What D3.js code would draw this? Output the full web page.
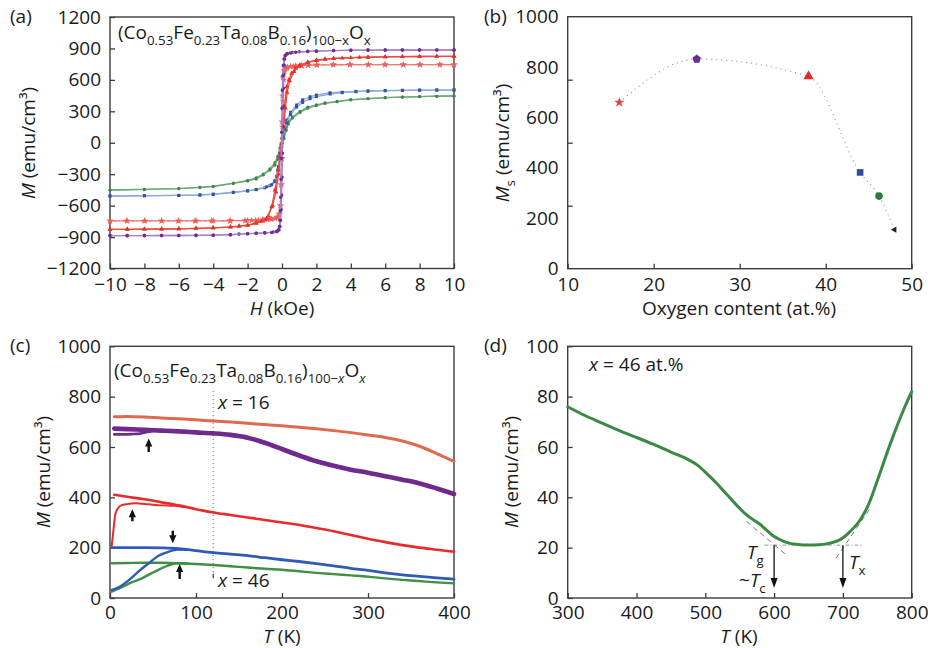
<!DOCTYPE html>
<html>
<head>
<meta charset="utf-8">
<script src="https://cdn.jsdelivr.net/npm/d3@7"></script>
<style>
  body { margin: 0; background: #fff; }
  svg { font-family: "Open Sans", sans-serif; }
</style>
</head>
<body>
<svg id="fig" width="928" height="648"></svg>
<script>
// ---------- data ----------

// (a) M-H loops, points are [H (kOe), M (emu/cm3)]; "down" = sweep +10 -> -10, "up" = -10 -> +10
const purpleDown = [[10,885],[9,885],[8,885],[7,885],[6,884],[5,884],[4,882],[3,880],[2,876],[1.5,872],[1,868],[0.6,862],[0.3,852],[0.2,835],[0.15,800],[0.12,740],[0.1,650],[0.08,520],[0.06,350],[0.04,150],[0.02,-100],[0,-330],[-0.02,-500],[-0.05,-640],[-0.08,-740],[-0.12,-800],[-0.18,-830],[-0.3,-845],[-0.5,-852],[-1,-860],[-1.5,-864],[-2,-868],[-2.5,-872],[-3,-877],[-4,-882],[-5,-884],[-6,-885],[-7,-885],[-8,-886],[-9,-886],[-10,-886]];
const purpleUp = [[-10,-886],[-9,-886],[-8,-886],[-7,-885],[-6,-885],[-5,-884],[-4,-882],[-3,-878],[-2,-868],[-1.5,-864],[-1,-860],[-0.6,-856],[-0.3,-850],[-0.2,-833],[-0.15,-800],[-0.12,-740],[-0.1,-650],[-0.08,-520],[-0.06,-350],[-0.04,-150],[-0.02,100],[0,330],[0.02,500],[0.05,640],[0.08,740],[0.12,800],[0.18,830],[0.3,848],[0.5,856],[0.8,864],[1.5,870],[2,874],[3,880],[4,883],[5,884],[6,885],[7,885],[8,885],[9,885],[10,885]];

const redDown = [[10,825],[9,824],[8,823],[7,821],[6,819],[5,816],[4,812],[3,805],[2.5,798],[2,788],[1.5,770],[1.05,741],[0.8,712],[0.56,662],[0.4,600],[0.27,534],[0.15,340],[0.05,150],[0,50],[-0.1,-120],[-0.2,-300],[-0.35,-470],[-0.55,-600],[-0.8,-700],[-1,-735],[-1.5,-765],[-2,-785],[-2.5,-795],[-3,-803],[-4,-812],[-5,-817],[-6,-821],[-7,-823],[-8,-825],[-9,-826],[-10,-827]];
const redUp = [[-10,-827],[-9,-826],[-8,-825],[-7,-824],[-6,-822],[-5,-818],[-4,-812],[-3,-805],[-2.5,-798],[-2,-788],[-1.5,-770],[-1.2,-750],[-0.89,-722],[-0.6,-611],[-0.41,-451],[-0.21,-260],[-0.12,-134],[0,0],[0.1,150],[0.2,330],[0.3,480],[0.45,590],[0.7,680],[1,730],[1.5,765],[2,785],[2.5,795],[3,802],[3.5,807],[4.5,814],[5,816],[6,819],[7,821],[8,823],[9,824],[10,825]];

const starDown = [[10,745],[9.18,745],[8.02,745],[7.05,745],[5.99,745],[5.02,745],[3.95,745],[2.98,744],[2.02,743],[1.53,741],[1.14,739],[0.8,735],[0.5,728],[0.3,720],[0.2,710],[0.12,690],[0.06,620],[0.02,450],[0,200],[-0.03,-150],[-0.06,-400],[-0.1,-600],[-0.15,-680],[-0.3,-715],[-0.66,-728],[-1.14,-736],[-1.53,-740],[-2.02,-742],[-3,-744],[-4,-745],[-5,-745],[-6,-745],[-7,-745],[-8,-745],[-9,-745],[-10,-745]];
const starUp = [[-10,-745],[-9.03,-745],[-7.97,-745],[-7,-745],[-6.03,-745],[-5.06,-745],[-4.09,-745],[-3.02,-744],[-2.15,-743],[-1.76,-741],[-1.38,-739],[-1.09,-736],[-0.85,-732],[-0.6,-728],[-0.4,-722],[-0.25,-710],[-0.15,-680],[-0.08,-600],[-0.03,-400],[0,-150],[0.03,150],[0.06,400],[0.1,600],[0.15,680],[0.3,715],[0.66,728],[1.14,736],[1.53,740],[2.02,742],[2.98,744],[3.95,745],[5.02,745],[5.99,745],[7.05,745],[8.02,745],[9.18,745],[10,745]];

const blueDown = [[10,503],[9,503],[8,502],[7,500],[6,498],[5,494],[4.3,490],[3.5,482],[2.79,477],[2,455],[1.63,439],[1.2,410],[0.85,360],[0.5,290],[0.27,217],[0.15,150],[0.05,60],[-0.05,-30],[-0.15,-150],[-0.25,-260],[-0.41,-360],[-0.7,-410],[-1,-430],[-1.5,-448],[-2,-460],[-2.83,-472],[-4,-490],[-4.77,-498],[-6,-503],[-8,-506],[-10,-508]];
const blueUp = [[-10,-508],[-8,-505],[-6,-502],[-4.77,-499],[-4,-493],[-2.83,-475],[-2,-458],[-1.5,-445],[-0.89,-420],[-0.6,-400],[-0.41,-372],[-0.3,-320],[-0.21,-229],[-0.12,-100],[-0.05,-10],[0.05,60],[0.15,130],[0.27,190],[0.5,270],[0.85,340],[1.2,385],[1.63,420],[2,440],[2.8,465],[3.5,478],[4.3,487],[5,492],[6,497],[7,500],[8,502],[9,503],[10,503]];

const greenDown = [[10,446],[9,444],[8,441],[7,436],[6,431],[5,422],[4,412],[3.2,395],[2.5,380],[2,362],[1.5,340],[1.05,300],[0.6,245],[0.37,200],[0.25,150],[0.12,90],[0,30],[-0.12,-50],[-0.25,-130],[-0.41,-190],[-0.7,-250],[-1.09,-300],[-1.5,-335],[-2,-360],[-2.83,-385],[-4,-415],[-4.77,-425],[-6,-437],[-8,-445],[-10,-451]];
const greenUp = [[-10,-451],[-8,-445],[-6,-437],[-4.77,-426],[-4,-418],[-2.83,-388],[-2,-365],[-1.5,-345],[-1.09,-308],[-0.7,-260],[-0.41,-213],[-0.25,-160],[-0.12,-101],[0,-40],[0.12,40],[0.25,120],[0.37,180],[0.6,235],[1.05,290],[1.5,330],[2,355],[2.5,375],[3.2,391],[4,410],[5,420],[6,430],[7,436],[8,441],[9,444],[10,446]];

// (b) saturation magnetisation vs oxygen content
const oxygenContent = [16, 25, 38, 44, 46.2, 48];
const msValues = [660, 832, 763, 382, 288, 155];

// (c) M-T curves, [T (K), M (emu/cm3)]; FC and ZFC branches
const salmonFC = [[5,720],[20,721],[40,719],[60,715],[80,712],[100,708],[120,703],[140,699],[160,694],[180,689],[200,684],[220,678],[240,672],[260,665],[280,657],[300,648],[320,638],[340,624],[360,603],[380,574],[400,543]];
const purpleFC = [[5,673],[20,671],[40,668],[60,665],[80,662],[100,658],[120,654],[140,648],[160,637],[180,617],[200,592],[220,566],[240,543],[260,525],[280,510],[300,498],[320,484],[340,470],[360,455],[380,435],[400,413]];
const purpleZFC = [[5,650],[15,650],[25,651],[35,653],[42,659],[50,664]];
const redFC = [[5,410],[20,402],[40,392],[60,380],[80,368],[100,353],[120,340],[140,330],[160,320],[180,310],[200,300],[220,290],[240,278],[260,265],[280,250],[300,235],[320,222],[340,210],[360,200],[380,192],[400,184]];
const redZFC = [[2,205],[4,270],[6,330],[9,355],[13,368],[20,373],[30,376],[45,372],[60,368],[75,366],[85,362]];
const blueFC = [[2,200],[20,200],[40,200],[60,199],[80,196],[100,188],[120,180],[140,174],[160,168],[180,160],[200,152],[220,145],[240,137],[260,128],[280,118],[300,110],[320,100],[340,92],[360,86],[380,80],[400,75]];
const blueZFC = [[2,32],[10,42],[17,58],[25,80],[33,105],[45,138],[56,167],[65,180],[72,188],[80,192],[90,191]];
const greenFC = [[2,138],[20,139],[40,140],[60,140],[80,138],[100,135],[120,131],[140,126],[160,121],[180,116],[200,112],[220,106],[240,100],[260,95],[280,90],[300,85],[320,78],[340,72],[360,67],[380,62],[400,58]];
const greenZFC = [[2,25],[12,40],[25,62],[35,75],[48,98],[58,115],[68,130],[78,138],[90,137]];
// arrows in (c): [T, M tail, M tip]
const arrowsC = [[45,580,634],[26,305,353],[73,267,218],[81,75,135]];

// (d) M-T for x = 46, heating
const heatT = [300,325,350,375,400,425,450,475,490,500,515,530,545,560,580,599,615,623,635,650,665,676,688,696,710,725,737,750,762,774,787,800];
const heatM = [76,72.5,69.5,66.5,63.8,61,58,55,52.5,50,46,41.5,37,33,29.2,24.6,22.4,21.7,21.3,21.1,21.2,21.5,22.3,23.2,26.3,31,37,46.6,56,65,74,82];
// Tg and Tx markers [T, M]
const transitions = [[600, 21], [700, 21]];

// tick labels
const hTicks = [-10,-8,-6,-4,-2,0,2,4,6,8,10];
const mTicksA = [-1200,-900,-600,-300,0,300,600,900,1200];
const oxTicks = [10,20,30,40,50];
const msLabels = [0,200,400,600,800,1000];
const msMarks = [250,500,750];
const tTicksC = [0,100,200,300,400];
const mTicksC = [0,200,400,600,800,1000];
const tTicksD = [300,400,500,600,700,800];
const mTicksD = [0,20,40,60,80,100];

// ---------- drawing ----------
const svg = d3.select('#fig');
const FS = 19;
const INK = '#1a1a1a';
const FRAME = '#3c3c3c';

function makeBox(x0, x1, y0, y1, xDom, yDom) {
    return {
        x0, x1, y0, y1,
        x: d3.scaleLinear().domain(xDom).range([x0, x1]),
        y: d3.scaleLinear().domain(yDom).range([y1, y0])
    };
}

function styleAxis(g) {
    g.select('.domain').remove();
    g.selectAll('line').attr('stroke', FRAME).attr('stroke-width', 1.3);
    g.selectAll('text').attr('font-size', FS).attr('fill', INK)
        .attr('font-family', '"Open Sans", sans-serif');
}

function drawAxes(b, xt, yt, yMarks, xPad) {
    const gx = svg.append('g').attr('transform', `translate(0,${b.y1})`)
        .call(d3.axisBottom(b.x).tickValues(xt).tickSize(-5).tickPadding(xPad || 9).tickFormat(d3.format('d')));
    styleAxis(gx);
    const gy = svg.append('g').attr('transform', `translate(${b.x0},0)`)
        .call(d3.axisLeft(b.y).tickValues(yt).tickSize(yMarks ? 0 : -5).tickPadding(9).tickFormat(d3.format('d')));
    styleAxis(gy);
    if (yMarks) {
        const gm = svg.append('g').attr('transform', `translate(${b.x0},0)`)
            .call(d3.axisLeft(b.y).tickValues(yMarks).tickSize(-5).tickFormat(''));
        styleAxis(gm);
    }
    svg.append('rect')
        .attr('x', b.x0).attr('y', b.y0)
        .attr('width', b.x1 - b.x0).attr('height', b.y1 - b.y0)
        .attr('fill', 'none').attr('stroke', FRAME).attr('stroke-width', 1.4);
}

// text with italic / subscript pieces
function rich(x, y, parts, size, anchor) {
    const t = svg.append('text').attr('x', x).attr('y', y)
        .attr('font-size', size).attr('fill', INK)
        .attr('text-anchor', anchor || 'start');
    let shift = 0;
    parts.forEach(p => {
        const s = p[0], kind = p[1] || '';
        const target = kind.includes('s') ? size * 0.3 : 0;
        const ts = t.append('tspan').text(s).attr('dy', target - shift);
        if (kind.includes('s')) ts.attr('font-size', size * 0.7);
        if (kind.includes('i')) ts.attr('font-style', 'italic');
        shift = target;
    });
    return t;
}

function yTitle(cx, cy, parts) {
    rich(0, 0, parts, FS, 'middle').attr('transform', `translate(${cx + 7},${cy}) rotate(-90)`);
}

function curve(b, pts, color, width, dash, smooth) {
    const line = d3.line().x(d => b.x(d[0])).y(d => b.y(d[1]));
    if (smooth) line.curve(d3.curveMonotoneX);
    return svg.append('path').datum(pts).attr('d', line)
        .attr('fill', 'none').attr('stroke', color).attr('stroke-width', width)
        .attr('stroke-dasharray', dash || null)
        .attr('stroke-linejoin', 'round').attr('stroke-linecap', 'round');
}

function markers(b, pts, type, size, color) {
    svg.append('g').selectAll('path').data(pts).join('path')
        .attr('transform', d => `translate(${b.x(d[0])},${b.y(d[1])})`)
        .attr('d', d3.symbol().type(type).size(size))
        .attr('fill', color);
}

const symbolPentagon = {
    draw(ctx, size) {
        const r = Math.sqrt(size / 2.378);
        for (let i = 0; i < 5; i++) {
            const a = -Math.PI / 2 + i * 2 * Math.PI / 5;
            if (i === 0) ctx.moveTo(r * Math.cos(a), r * Math.sin(a));
            else ctx.lineTo(r * Math.cos(a), r * Math.sin(a));
        }
        ctx.closePath();
    }
};

// panel labels
[['(a)', 10, 23], ['(b)', 484, 23], ['(c)', 10, 352], ['(d)', 484, 352]].forEach(l => {
    svg.append('text').attr('x', l[1]).attr('y', l[2]).attr('font-size', FS).attr('fill', INK).text(l[0]);
});

// ---- (a) ----
const A = makeBox(110, 454, 17, 268.5, [-10, 10], [-1200, 1200]);
drawAxes(A, hTicks, mTicksA);

const loopsA = [
    { d: greenDown, u: greenUp, line: '#6ea878', mark: '#3b8748', sym: d3.symbolCircle, size: 8 },
    { d: blueDown, u: blueUp, line: '#8ea8da', mark: '#2d55aa', sym: d3.symbolSquare, size: 9 },
    { d: starDown, u: starUp, line: '#ef7a72', mark: '#ec5f57', sym: d3.symbolStar, size: 16, dash: '6,3' },
    { d: redDown, u: redUp, line: '#ec4a44', mark: '#e83028', sym: d3.symbolTriangle, size: 10 },
    { d: purpleDown, u: purpleUp, line: '#a982c4', mark: '#6e2c92', sym: d3.symbolCircle, size: 10 }
];
loopsA.forEach(s => {
    [s.d, s.u].forEach(br => {
        curve(A, br, s.line, 1.3, s.dash);
        markers(A, br, s.sym, s.size, s.mark);
    });
});

rich(118, 39, [['(Co'], ['0.53', 's'], ['Fe'], ['0.23', 's'], ['Ta'], ['0.08', 's'], ['B'], ['0.16', 's'], [')'], ['100−x', 's'], ['O'], ['x', 's']], FS);
yTitle(28, 143, [['M', 'i'], [' (emu/cm³)']]);
rich(282, 315, [['H', 'i'], [' (kOe)']], FS, 'middle');

// ---- (b) ----
const B = makeBox(567.7, 911.7, 16.7, 268.7, [10, 50], [0, 1000]);
drawAxes(B, oxTicks, msLabels, msMarks);

const msPts = oxygenContent.map((o, i) => [o, msValues[i]]);
svg.append('path').datum(msPts)
    .attr('d', d3.line().curve(d3.curveMonotoneX).x(d => B.x(d[0])).y(d => B.y(d[1])))
    .attr('fill', 'none').attr('stroke', '#8a8a8a').attr('stroke-width', 1.1).attr('stroke-dasharray', '1,4');

const msStyle = [
    { sym: d3.symbolStar, size: 34, color: '#e8413b' },
    { sym: symbolPentagon, size: 48, color: '#6a2f8c' },
    { sym: d3.symbolTriangle, size: 44, color: '#e8262a' },
    { sym: d3.symbolSquare, size: 44, color: '#2d4fa2' },
    { sym: d3.symbolCircle, size: 46, color: '#2f7a44' },
    { sym: d3.symbolTriangle, size: 18, color: '#222', rot: 150 }
];
msPts.forEach((p, i) => {
    const st = msStyle[i];
    svg.append('path')
        .attr('transform', `translate(${B.x(p[0])},${B.y(p[1])}) rotate(${st.rot || 0})`)
        .attr('d', d3.symbol().type(st.sym).size(st.size))
        .attr('fill', st.color);
});

yTitle(502, 143, [['M', 'i'], ['s', 's'], [' (emu/cm³)']]);
rich(739, 315, [['Oxygen content (at.%)']], FS, 'middle');

// ---- (c) ----
const C = makeBox(110, 454, 346.3, 598, [0, 400], [0, 1000]);
drawAxes(C, tTicksC, mTicksC, null, 8);

curve(C, greenZFC, '#3f8f45', 2.4, null, true);
curve(C, greenFC, '#3f8f45', 2.4, null, true);
curve(C, blueZFC, '#2f5bb7', 2.4, null, true);
curve(C, blueFC, '#2f5bb7', 2.8, null, true);
curve(C, redZFC, '#ea2a2a', 2, null, true);
curve(C, redFC, '#ea2a2a', 2.6, null, true);
curve(C, purpleZFC, '#6e2a8c', 2.6, null, true);
curve(C, purpleFC, '#6e2a8c', 4.6, null, true);
curve(C, salmonFC, '#e0694f', 3, null, true);

// dotted guide at T = 120 K
svg.append('line')
    .attr('x1', C.x(120)).attr('x2', C.x(120)).attr('y1', C.y(822)).attr('y2', C.y(100))
    .attr('stroke', '#555').attr('stroke-width', 1).attr('stroke-dasharray', '1,3');
svg.append('line')
    .attr('x1', C.x(120)).attr('x2', C.x(120)).attr('y1', C.y(96)).attr('y2', C.y(78))
    .attr('stroke', '#333').attr('stroke-width', 1.2);

arrowsC.forEach(a => {
    const x = C.x(a[0]), y0 = C.y(a[1]), y1 = C.y(a[2]);
    const dir = y1 > y0 ? 1 : -1;
    const hb = y1 - dir * 8;
    svg.append('path')
        .attr('d', `M${x - 1.2},${y0} L${x + 1.2},${y0} L${x + 1.2},${hb} L${x + 3.6},${hb} L${x},${y1} L${x - 3.6},${hb} L${x - 1.2},${hb} Z`)
        .attr('fill', '#111');
});

rich(114, 377, [['(Co'], ['0.53', 's'], ['Fe'], ['0.23', 's'], ['Ta'], ['0.08', 's'], ['B'], ['0.16', 's'], [')'], ['100−', 's'], ['x', 'si'], ['O'], ['x', 'si']], FS);
rich(218, 409, [['x', 'i'], [' = 16']], FS);
rich(218, 587, [['x', 'i'], [' = 46']], FS);
yTitle(43, 472, [['M', 'i'], [' (emu/cm³)']]);
rich(282, 643, [['T', 'i'], [' (K)']], FS, 'middle');

// ---- (d) ----
const D = makeBox(567.7, 911.7, 346.3, 598, [300, 800], [0, 100]);
drawAxes(D, tTicksD, mTicksD, null, 8);

// construction lines for Tg / Tx
svg.append('line')
    .attr('x1', D.x(586)).attr('x2', D.x(728)).attr('y1', D.y(21)).attr('y2', D.y(21))
    .attr('stroke', '#999').attr('stroke-width', 1).attr('stroke-dasharray', '4,2,1,2');
svg.append('line')
    .attr('x1', D.x(560)).attr('x2', D.x(620)).attr('y1', D.y(30.4)).attr('y2', D.y(16.6))
    .attr('stroke', '#777').attr('stroke-width', 1).attr('stroke-dasharray', '5,4');
svg.append('line')
    .attr('x1', D.x(690)).attr('x2', D.x(740)).attr('y1', D.y(15.8)).attr('y2', D.y(35.8))
    .attr('stroke', '#777').attr('stroke-width', 1).attr('stroke-dasharray', '5,4');

curve(D, heatT.map((t, i) => [t, heatM[i]]), '#3b8a44', 3, null, true);

transitions.forEach(p => {
    const x = D.x(p[0]), y0 = D.y(p[1]), y1 = D.y(4);
    svg.append('line').attr('x1', x).attr('x2', x).attr('y1', y0).attr('y2', y1 - 8)
        .attr('stroke', '#111').attr('stroke-width', 1.3);
    svg.append('path').attr('d', `M${x - 3.5},${y1 - 10} L${x + 3.5},${y1 - 10} L${x},${y1} Z`).attr('fill', '#111');
});

rich(589, 371, [['x', 'i'], [' = 46 at.%']], FS);
rich(747, 559, [['T', 'i'], ['g', 's']], FS);
rich(739, 587, [['~'], ['T', 'i'], ['c', 's']], FS);
rich(849, 569, [['T', 'i'], ['x', 's']], FS);
yTitle(510.5, 472, [['M', 'i'], [' (emu/cm³)']]);
rich(739, 643, [['T', 'i'], [' (K)']], FS, 'middle');
</script>
</body>
</html>
